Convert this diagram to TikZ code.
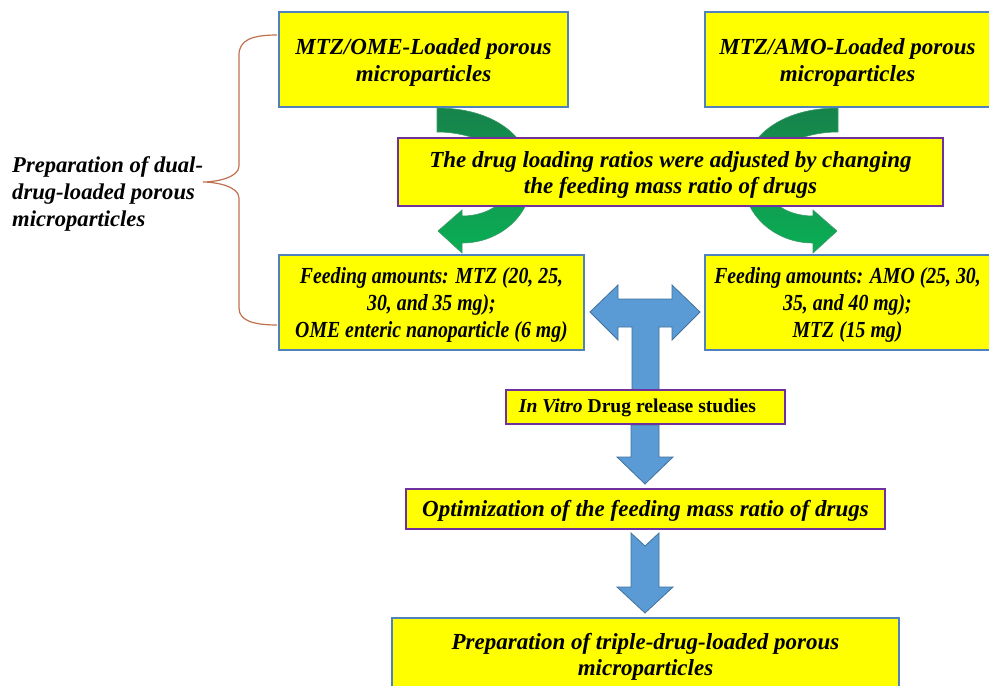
\documentclass[tikz,border=0pt]{standalone}
\usepackage{fontspec}
\setmainfont{Liberation Serif}
\newfontfamily\condfont[FakeStretch=0.86]{Liberation Serif}
\definecolor{boxyellow}{HTML}{FFFF00}
\definecolor{boxblue}{HTML}{4F81BD}
\definecolor{boxpurple}{HTML}{7030A0}
\definecolor{arrowblue}{HTML}{5B9BD5}
\definecolor{arrowblueline}{HTML}{41719C}
\definecolor{greentop}{HTML}{17834B}
\definecolor{greenbot}{HTML}{0AAE55}
\definecolor{greenline}{HTML}{3A9A66}
\definecolor{bracecol}{HTML}{C0714F}
\begin{document}
\begin{tikzpicture}[x=1pt,y=-1pt,
  box/.style={draw=boxblue, fill=boxyellow, line width=1.2pt, inner sep=0pt, outer sep=0pt,
    align=center, font=\bfseries\itshape\fontsize{23}{26.5}\selectfont},
  pbox/.style={box, draw=boxpurple},
  condbox/.style={box, font=\condfont\bfseries\itshape\fontsize{23}{27}\selectfont},
  oneline/.style={text height=20pt, text depth=5pt},
  twolines/.style={text height=48pt, text depth=5pt},
  threelines/.style={text height=75.5pt, text depth=5pt},
  greenarrow/.style={top color=greentop, bottom color=greenbot, draw=greenline, line width=0.6pt},
  bluearrow/.style={fill=arrowblue, draw=arrowblueline, line width=0.8pt, line join=miter},
  bracestyle/.style={draw=bracecol, line width=1.2pt},
  lefttext/.style={inner sep=0pt, align=left, font=\bfseries\itshape\fontsize{22.6}{27}\selectfont}]
\useasboundingbox (0,0) rectangle (989,686);
\clip (0,0) rectangle (989,686);
\fill[white] (0,0) rectangle (989,686);

% green curved arrows
\path[greenarrow] (437,108) .. controls (495,108) and (532,138) .. (532,178)
  .. controls (532,215) and (500,243) .. (462,243) -- (462,253) -- (438,231) -- (462,210) -- (462,216)
  .. controls (490,216) and (511,200) .. (511,178) .. controls (511,150) and (475,132) .. (437,132) -- cycle;
\path[greenarrow] (838,108) .. controls (780,108) and (743,138) .. (743,178)
  .. controls (743,215) and (775,243) .. (813,243) -- (813,253) -- (837,231) -- (813,210) -- (813,216)
  .. controls (785,216) and (764,200) .. (764,178) .. controls (764,150) and (800,132) .. (838,132) -- cycle;

% blue arrows
\draw[bluearrow] (590,312) -- (618,285) -- (618,299) -- (672,299) -- (672,285) -- (700,312) -- (672,340)
  -- (672,327) -- (659,327) -- (659,390) -- (632,390) -- (632,327) -- (618,327) -- (618,340) -- cycle;
\draw[bluearrow] (631,425) -- (659,425) -- (659,457) -- (673,457) -- (645,484) -- (617,457) -- (631,457) -- cycle;
\draw[bluearrow] (631,533) -- (645,546) -- (659,533) -- (659,587) -- (673,587) -- (645,613) -- (617,587) -- (631,587) -- cycle;

% boxes
\node[box, twolines, minimum width=289pt, minimum height=95pt] (mtzome) at (423.5,59.5) {MTZ/OME-Loaded porous\\microparticles};
\node[box, twolines, minimum width=285pt, minimum height=95pt] (mtzamo) at (847.5,59.5) {MTZ/AMO-Loaded porous\\microparticles};
\node[pbox, twolines, minimum width=545pt, minimum height=68pt] (ratios) at (670.5,172) {The drug loading ratios were adjusted by changing\\the feeding mass ratio of drugs};
\node[condbox, threelines, minimum width=305pt, minimum height=95pt] (feedmtz) at (431.5,302.5) {Feeding amounts: MTZ (20, 25,\\30, and 35 mg);\\OME enteric nanoparticle (6 mg)};
\node[condbox, threelines, minimum width=285pt, minimum height=95pt] (feedamo) at (847.5,302.5) {Feeding amounts: AMO (25, 30,\\35, and 40 mg);\\MTZ (15 mg)};
\node[pbox, font=\bfseries\fontsize{19.6}{22}\selectfont, text height=15pt, text depth=4pt, minimum width=279pt, minimum height=34pt] (invitro) at (645.5,407) {\textit{In Vitro} Drug release studies\hspace*{16pt}};
\node[pbox, oneline, minimum width=479pt, minimum height=40pt] (optim) at (645.5,509) {Optimization of the feeding mass ratio of drugs};
\node[box, twolines, minimum width=507pt, minimum height=72pt] (triple) at (645.5,654) {Preparation of triple-drug-loaded porous\\microparticles};

% brace and side label
\coordinate (bracetop) at (277,35);
\coordinate (bracebot) at (277,325);
\draw[bracestyle] (bracetop) .. controls (252,35) and (239,40) .. (239,55) -- (239,166)
  .. controls (239,178) and (215,182) .. (203,182) .. controls (215,182) and (239,186) .. (239,198)
  -- (239,308) .. controls (239,320) and (252,325) .. (bracebot);
\node[lefttext, anchor=north west] (dual) at (12,156) {Preparation of dual-\\drug-loaded porous\\microparticles};
\end{tikzpicture}
\end{document}
